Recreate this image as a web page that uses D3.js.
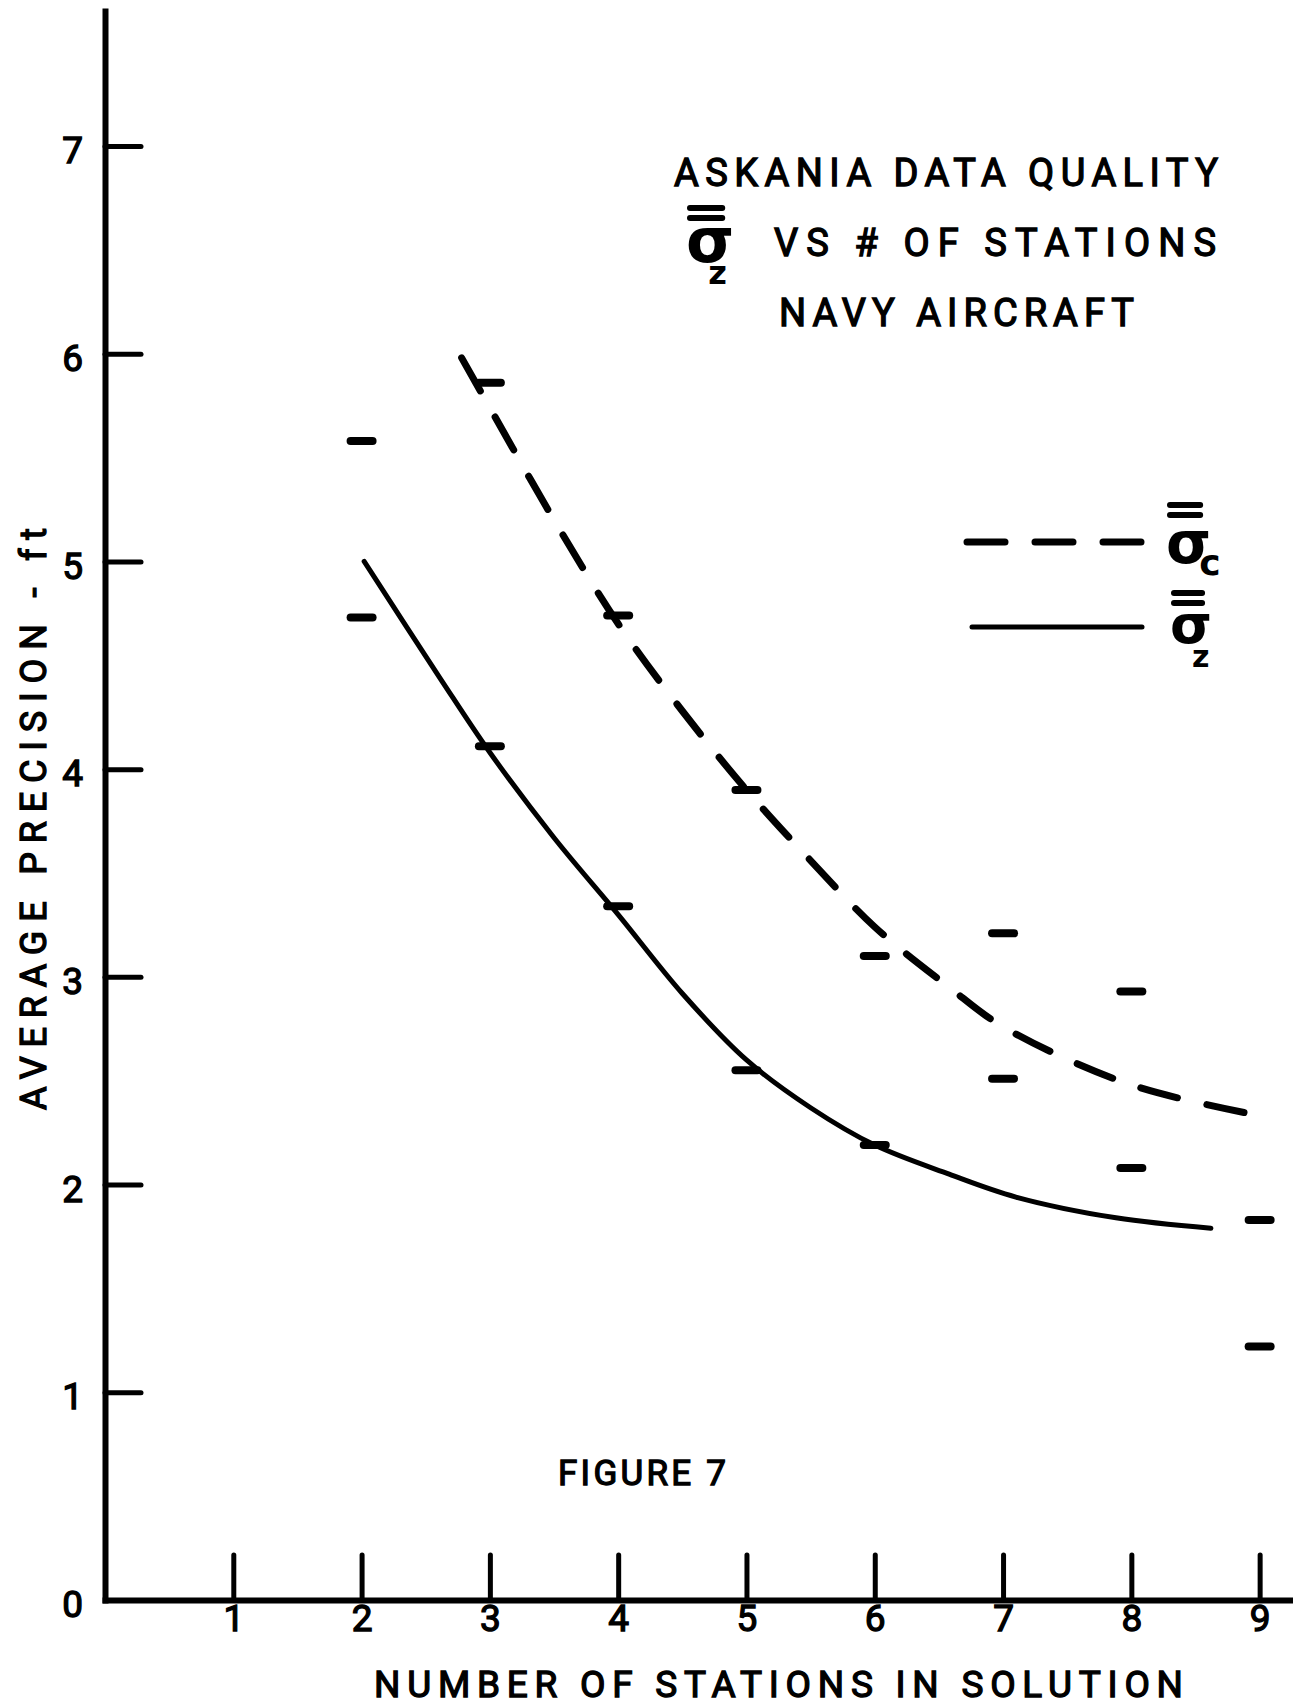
<!DOCTYPE html>
<html>
<head>
<meta charset="utf-8">
<script src="https://cdn.jsdelivr.net/npm/d3@7"></script>
<style>
  body { margin: 0; background: #fff; }
  text { font-family: 'Roboto', 'Liberation Sans', sans-serif; font-weight: normal; fill: #000; stroke: #000; stroke-width: 1.3px; }
  .sym { font-family: 'DejaVu Sans', sans-serif; font-weight: bold; stroke-width: 0; }
</style>
</head>
<body>
<div id="chart"></div>
<script>
// axis ticks
const stationTicks = [1, 2, 3, 4, 5, 6, 7, 8, 9];
const precisionTicks = [0, 1, 2, 3, 4, 5, 6, 7];

// sigma-c curve (dashed)
const dashedX = [2.78, 3.0, 3.5, 4.0, 4.5, 5.0, 5.5, 6.0, 6.58, 7.0, 8.0, 9.1];
const dashedY = [5.98, 5.74, 5.20, 4.70, 4.28, 3.90, 3.56, 3.24, 2.95, 2.76, 2.48, 2.32];

// sigma-z curve (solid)
const solidX = [2.02, 2.62, 3.0, 3.5, 4.0, 4.5, 5.0, 5.5, 6.0, 6.58, 7.1, 7.88, 8.62];
const solidY = [5.0, 4.43, 4.08, 3.67, 3.30, 2.92, 2.60, 2.37, 2.19, 2.05, 1.94, 1.84, 1.79];

// plotted data marks
const pointX = [2, 2, 3, 3, 4, 4, 5, 5, 6, 6, 7, 7, 8, 8, 9, 9];
const pointY = [5.58, 4.73, 5.86, 4.11, 4.74, 3.34, 3.90, 2.55, 3.10, 2.19, 3.21, 2.51, 2.93, 2.08, 1.83, 1.22];

const w = 1293;
const h = 1707;

const svg = d3.select('#chart').append('svg')
  .attr('width', w).attr('height', h)
  .style('background-color', '#fff');

const xScale = d3.scaleLinear().domain([0, 9.26]).range([105, 1293]);
const yScale = d3.scaleLinear().domain([0, 7.65]).range([1600, 11]);

const xAxis = d3.axisBottom(xScale)
  .tickValues(stationTicks)
  .tickSizeInner(-45).tickSizeOuter(0)
  .tickPadding(5)
  .tickFormat(d3.format('d'));
const yAxis = d3.axisLeft(yScale)
  .tickValues(precisionTicks)
  .tickSizeInner(-36).tickSizeOuter(0)
  .tickPadding(22)
  .tickFormat(d3.format('d'));

const gx = svg.append('g')
  .attr('transform', 'translate(0,' + yScale(0) + ')')
  .call(xAxis);
const gy = svg.append('g')
  .attr('transform', 'translate(' + xScale(0) + ',0)')
  .call(yAxis);

[gx, gy].forEach(function(g) {
  g.select('.domain').attr('stroke', '#000').attr('stroke-width', 6).attr('stroke-linecap', 'square');
  g.selectAll('.tick line').attr('stroke', '#000').attr('stroke-width', 5).attr('stroke-linecap', 'round');
  g.selectAll('.tick text').style('font-size', '37px').attr('fill', '#000');
});
gy.selectAll('.tick').filter(d => d === 0).select('line').remove();
gy.selectAll('.tick text').attr('dy', '0.45em');

// curves
const line = d3.line()
  .x(d => xScale(d[0]))
  .y(d => yScale(d[1]))
  .curve(d3.curveCatmullRom.alpha(0.5));

svg.append('path')
  .datum(d3.zip(dashedX, dashedY))
  .attr('d', line)
  .attr('fill', 'none').attr('stroke', '#000')
  .attr('stroke-width', 7).attr('stroke-linecap', 'round')
  .attr('stroke-dasharray', '38,30');

svg.append('path')
  .datum(d3.zip(solidX, solidY))
  .attr('d', line)
  .attr('fill', 'none').attr('stroke', '#000')
  .attr('stroke-width', 5).attr('stroke-linecap', 'round');

// data marks: short horizontal bars
svg.selectAll('line.mark').data(d3.zip(pointX, pointY)).enter().append('line')
  .attr('class', 'mark')
  .attr('x1', d => xScale(d[0]) - 11)
  .attr('x2', d => xScale(d[0]) + 11)
  .attr('y1', d => yScale(d[1]))
  .attr('y2', d => yScale(d[1]))
  .attr('stroke', '#000').attr('stroke-width', 8).attr('stroke-linecap', 'round');

// titles
function label(x, y, str, size, len) {
  return svg.append('text')
    .attr('x', x).attr('y', y)
    .attr('textLength', len).attr('lengthAdjust', 'spacing')
    .style('font-size', size + 'px')
    .text(str);
}
label(674, 186, 'ASKANIA DATA QUALITY', 38, 544);
label(774, 256, 'VS # OF STATIONS', 38, 442);
label(779, 326, 'NAVY AIRCRAFT', 38, 355);
label(558, 1485, 'FIGURE 7', 35, 168);
label(374, 1697, 'NUMBER OF STATIONS IN SOLUTION', 37, 809);

svg.append('text')
  .attr('transform', 'translate(46,1110) rotate(-90)')
  .attr('textLength', 582).attr('lengthAdjust', 'spacing')
  .style('font-size', '36px')
  .text('AVERAGE PRECISION - ft');

// sigma symbol with double overbar and subscript
function sigma(x, y, size, sub, subSize, subDx, subDy, barY) {
  const t = svg.append('text').attr('class', 'sym')
    .attr('x', x).attr('y', y)
    .style('font-size', size + 'px');
  t.append('tspan').text('σ');
  t.append('tspan')
    .attr('dx', subDx).attr('dy', subDy)
    .style('font-size', subSize + 'px')
    .text(sub);
  const bw = size * 0.52;
  [barY, barY + 10].forEach(function(by) {
    svg.append('line')
      .attr('x1', x + 4).attr('x2', x + 4 + bw)
      .attr('y1', by).attr('y2', by)
      .attr('stroke', '#000').attr('stroke-width', 6).attr('stroke-linecap', 'round');
  });
}
sigma(686, 262, 62, 'z', 32, -26, 22, 208);
sigma(1166, 563, 58, 'c', 36, -12, 12, 505);
sigma(1170, 643, 54, 'z', 30, -20, 24, 593);

// legend lines
svg.append('line')
  .attr('x1', 967).attr('x2', 1142).attr('y1', 542).attr('y2', 542)
  .attr('stroke', '#000').attr('stroke-width', 7).attr('stroke-linecap', 'round')
  .attr('stroke-dasharray', '38,30');
svg.append('line')
  .attr('x1', 972).attr('x2', 1142).attr('y1', 627).attr('y2', 627)
  .attr('stroke', '#000').attr('stroke-width', 5).attr('stroke-linecap', 'round');
</script>
</body>
</html>
